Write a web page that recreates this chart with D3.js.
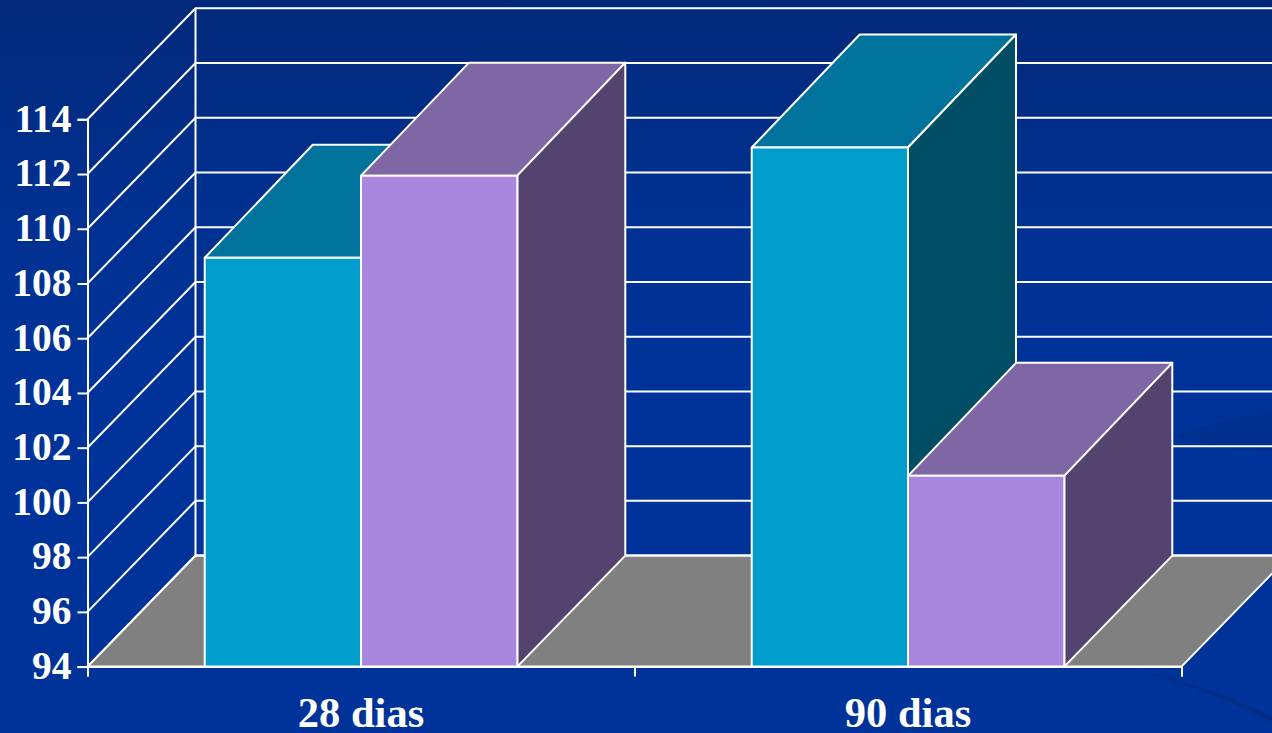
<!DOCTYPE html>
<html><head><meta charset="utf-8">
<script src="https://cdn.jsdelivr.net/npm/d3@7"></script>
<style>html,body{margin:0;padding:0;background:#003399;overflow:hidden}svg{display:block}</style>
</head><body><svg id="c" width="1272" height="733"></svg>
<script>
const categories = ["28 dias", "90 dias"];
const seriesNames = ["a", "b"];
const seriesA = [108.94, 112.97];
const seriesB = [111.94, 100.97];
const yTicks = [94, 96, 98, 100, 102, 104, 106, 108, 110, 112, 114];
const frontColors = ["#009ccc", "#a886de"];
const topColors = ["#00739c", "#7f66a5"];
const sideColors = ["#004d66", "#54426f"];
const values = [seriesA, seriesB];

const W = 1272, H = 733, dx = 108, dy = -111, topRise = -113;
const sw = 2;
const svg = d3.select("#c");
const defs = svg.append("defs");
const g = defs.append("linearGradient").attr("id", "bg").attr("x1", 0).attr("y1", 0).attr("x2", 0).attr("y2", 1);
g.append("stop").attr("offset", 0).attr("stop-color", "#02297a");
g.append("stop").attr("offset", 0.28).attr("stop-color", "#003090");
g.append("stop").attr("offset", 0.5).attr("stop-color", "#003399");
svg.append("rect").attr("width", W).attr("height", H).attr("fill", "url(#bg)");
// faint background swooshes of the slide template
svg.append("path").attr("d", "M1172 436 Q1220 420 1272 410 L1272 450 Q1215 452 1172 436Z").attr("fill", "#00308f");
svg.append("path").attr("d", "M1130 668 Q1210 690 1272 722 L1272 717 Q1210 686 1130 668Z").attr("fill", "#012d86");

const y = d3.scaleLinear().domain([94, 114]).range([666.6, 119.3]);
const x0 = d3.scaleBand().domain(categories).range([87.5, 1181.5]);
const x1 = d3.scaleBand().domain(seriesNames).range([0, x0.bandwidth()]).paddingInner(0).paddingOuter(0.75);

const applyLine = s => s.attr("stroke", "#fff").attr("stroke-width", sw).attr("fill", "none");

// floor
const x00 = x0.range()[0], x01 = x0.range()[1], yb = y(94);
svg.append("path")
  .attr("d", d3.line()([[x00, yb], [x00 + dx, yb + dy], [x01 + dx, yb + dy], [x01, yb]]) + "Z")
  .attr("fill", "#808080").attr("stroke", "#fff").attr("stroke-width", sw);

// gridlines: side wall and back wall
const grid = svg.append("g");
yTicks.forEach(t => {
  const p = y(t);
  applyLine(grid.append("path")).attr("d", d3.line()([[x00, p], [x00 + dx, p + dy], [W + 30, p + dy]]));
});
applyLine(grid.append("line")).attr("x1", x00 + dx).attr("x2", x00 + dx).attr("y1", y(114) + dy).attr("y2", yb + dy);

// bars
categories.forEach((c, i) => {
  seriesNames.forEach((s, j) => {
    const v = values[j][i];
    const l = x0(c) + x1(s), r = l + x1.bandwidth(), t = y(v), b = y(94);
    const pg = pts => svg.append("path").attr("d", d3.line()(pts) + "Z").attr("stroke", "#fff").attr("stroke-width", sw).attr("stroke-linejoin", "round");
    pg([[l, t], [l + dx, t + topRise], [r + dx, t + topRise], [r, t]]).attr("fill", topColors[j]);
    pg([[r, t], [r + dx, t + topRise], [r + dx, b + dy], [r, b]]).attr("fill", sideColors[j]);
    pg([[l, t], [r, t], [r, b], [l, b]]).attr("fill", frontColors[j]);
  });
});

// axes
const font = '"Liberation Serif", serif';
const ay = svg.append("g").attr("transform", `translate(${x00},0)`)
  .call(d3.axisLeft(y).tickValues(yTicks).tickFormat(d3.format("d")).tickSize(10).tickPadding(6));
const ax = svg.append("g").attr("transform", `translate(0,${yb})`)
  .call(d3.axisBottom(d3.scaleLinear().domain([0, 2]).range([x00, x01])).tickValues([0, 1, 2]).tickFormat("").tickSize(10));
[ay, ax].forEach(a => {
  a.selectAll("path.domain").attr("stroke", "#fff").attr("stroke-width", sw);
  a.selectAll("line").attr("stroke", "#fff").attr("stroke-width", sw);
});
ay.selectAll("text").attr("fill", "#fff").attr("font-family", font).attr("font-weight", "bold").attr("font-size", 39.5).attr("dy", "0.3em");
svg.append("g").selectAll("text").data(categories).join("text")
  .attr("x", d => x0(d) + x0.bandwidth() / 2).attr("y", 727)
  .attr("text-anchor", "middle").attr("fill", "#fff").attr("font-family", font).attr("font-weight", "bold").attr("font-size", 42.5)
  .text(d => d);
</script></body></html>
